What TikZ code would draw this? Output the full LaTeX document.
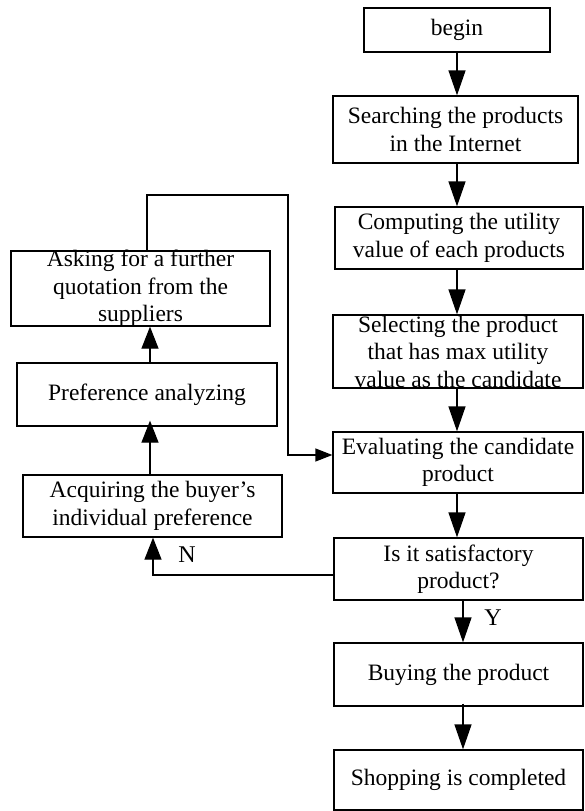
\documentclass[tikz,border=0pt]{standalone}
\usepackage{fontspec}
\setmainfont{Liberation Serif}
\usetikzlibrary{arrows.meta}
\begin{document}
\begin{tikzpicture}[x=1pt,y=-1pt,
  boxs/.style={draw,line width=1.3pt,inner sep=0pt},
  txt/.style={align=center,inner sep=0pt,font=\fontsize{23.5}{27.5}\selectfont},
  lbl/.style={inner sep=0pt,font=\fontsize{24}{28}\selectfont},
  conn/.style={line width=1.3pt},
  bigarr/.style={conn,-{Triangle[length=25pt,width=17pt]}},
  midarr/.style={conn,-{Triangle[length=22pt,width=17pt]}},
  smallarr/.style={conn,-{Triangle[length=17pt,width=13pt]}}]
\fill[white] (0,0) rectangle (584,811);
\useasboundingbox (0,0) rectangle (584,811);
% main column boxes
\node[boxs,minimum width=186pt,minimum height=44pt] (begin) at (457,30) {};
\node[txt] at (begin) {begin};
\node[boxs,minimum width=245pt,minimum height=67pt] (search) at (455.5,129.5) {};
\node[txt] at (search) {Searching the products\\in the Internet};
\node[boxs,minimum width=248pt,minimum height=62pt] (comp) at (459,238) {};
\node[txt] at (comp) {Computing the utility\\value of each products};
\node[boxs,minimum width=250pt,minimum height=73pt] (sel) at (458,351.5) {};
\node[txt] at (sel) {Selecting the product\\that has max utility\\value as the candidate};
\node[boxs,minimum width=250pt,minimum height=61pt] (eval) at (458,462.5) {};
\node[txt] at (eval) {Evaluating the candidate\\product};
\node[boxs,minimum width=249pt,minimum height=62pt] (is) at (458.5,569) {};
\node[txt] at (is) {Is it satisfactory\\product?};
\node[boxs,minimum width=249pt,minimum height=63pt] (buy) at (458.5,674.5) {};
\node[txt] at (buy) {Buying the product};
\node[boxs,minimum width=249pt,minimum height=60pt] (shop) at (458.5,780) {};
\node[txt] at (shop) {Shopping is completed};
% left column boxes
\node[boxs,minimum width=259pt,minimum height=75pt] (ask) at (140.5,288.5) {};
\node[txt] at (ask) {Asking for a further\\quotation from the\\suppliers};
\node[boxs,minimum width=260pt,minimum height=63pt] (pref) at (147,394.5) {};
\node[txt] at (pref) {Preference analyzing};
\node[boxs,minimum width=259pt,minimum height=62pt] (acq) at (152.5,506) {};
\node[txt] at (acq) {Acquiring the buyer's\\individual preference};
% coordinates
\coordinate (colA) at (457,0);
\coordinate (colB) at (463,0);
\coordinate (colL) at (150,0);
\coordinate (lp1) at (147,195);
\coordinate (lp2) at (288,195);
\coordinate (lp3) at (288,455);
\coordinate (np) at (153,575);
% main connectors
\draw[bigarr] (colA |- begin.south) -- (colA |- search.north);
\draw[bigarr] (colA |- search.south) -- (colA |- comp.north);
\draw[bigarr] (colA |- comp.south) -- (colA |- sel.north);
\draw[bigarr] (colA |- sel.south) -- (colA |- eval.north);
\draw[bigarr] (colA |- eval.south) -- (colA |- is.north);
\draw[bigarr] (colB |- is.south) -- (colB |- buy.north);
\draw[bigarr] ([yshift=3pt]colB |- buy.south) -- (colB |- shop.north);
% left connectors
\draw[midarr] (colL |- acq.north) -- ([yshift=6pt]colL |- pref.south);
\draw[midarr] (colL |- pref.north) -- (colL |- ask.south);
\draw[smallarr] (lp1 |- ask.north) -- (lp1) -- (lp2) -- (lp3) -- (lp3 -| eval.west);
\draw[midarr] (np -| is.west) -- (np) -- (np |- acq.south);
% labels
\node[lbl] (ylab) at (493,618) {Y};
\node[lbl] (nlab) at (187,555) {N};
\end{tikzpicture}
\end{document}
